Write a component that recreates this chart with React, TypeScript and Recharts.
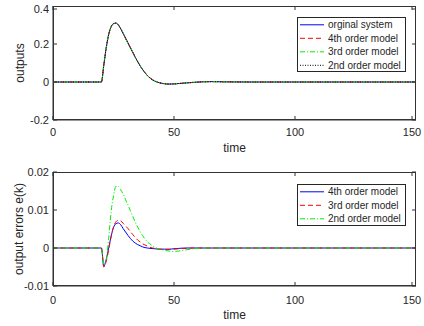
import { Line, LineChart, XAxis, YAxis } from "recharts";

// sample times (s)
const times = [
  0, 20, 21, 22, 23, 24, 25, 26, 27, 28, 29, 30, 31, 32, 33, 34, 35, 36, 37,
  38, 39, 40, 42, 44, 46, 48, 50, 52, 55, 58, 62, 66, 70, 80, 150,
];

// step response of the original system; the reduced models overlap it
const outOriginal = [
  0, 0, 0.09, 0.18, 0.25, 0.29, 0.307, 0.31, 0.3, 0.28, 0.255, 0.23, 0.205,
  0.18, 0.155, 0.13, 0.107, 0.085, 0.066, 0.049, 0.034, 0.022, 0.005, -0.004,
  -0.009, -0.011, -0.01, -0.008, -0.005, -0.002, 0.001, 0.002, 0.001, 0, 0,
];

// output errors e(k)
const err4th = [
  0, 0, -0.0048, -0.003, 0, 0.003, 0.0054, 0.0064, 0.0066, 0.0061, 0.0051,
  0.0042, 0.0033, 0.0025, 0.0018, 0.0013, 0.0009, 0.0006, 0.0003, 0.0001, 0,
  -0.0001, -0.0002, -0.0003, -0.0003, -0.0003, -0.0002, -0.0001, 0, 0, 0, 0,
  0, 0, 0,
];
const err3rd = [
  0, 0, -0.005, -0.0035, -0.0005, 0.003, 0.0055, 0.0069, 0.0073, 0.0071,
  0.0065, 0.0058, 0.0051, 0.0043, 0.0035, 0.0028, 0.0021, 0.0016, 0.0011,
  0.0008, 0.0005, 0.0002, -0.0001, -0.0003, -0.0004, -0.0004, -0.0003,
  -0.0002, -0.0001, 0, 0, 0, 0, 0, 0,
];
const err2nd = [
  0, 0, -0.0043, -0.003, 0.0025, 0.0095, 0.0137, 0.0162, 0.0162, 0.0153,
  0.0142, 0.0127, 0.0113, 0.0098, 0.0083, 0.0068, 0.0055, 0.0043, 0.0033,
  0.0024, 0.0016, 0.0011, 0.0002, -0.0003, -0.0006, -0.0008, -0.0009,
  -0.0008, -0.0005, -0.0002, 0, 0, 0, 0, 0,
];

const xTicks = [0, 50, 100, 150];
const yTicksTop = [-0.2, 0, 0.2, 0.4];
const yTicksBottom = [-0.01, 0, 0.01, 0.02];

const topNames = [
  "orginal system",
  "4th order model",
  "3rd order model",
  "2nd order model",
];
const bottomNames = ["4th order model", "3rd order model", "2nd order model"];

const topData = times.map((t, i) => ({
  t,
  orig: outOriginal[i],
  m4: outOriginal[i],
  m3: outOriginal[i],
  m2: outOriginal[i],
}));

const bottomData = times.map((t, i) => ({
  t,
  e4: err4th[i],
  e3: err3rd[i],
  e2: err2nd[i],
}));

const FONT = '"Liberation Sans", Arial, sans-serif';
const INK = "#262626";
const AXIS = "#333333";

// plot box: left edge, size in px (same for both panels), inward tick length
const PLOT_X = 53;
const PLOT_W = 363;
const PLOT_H = 114;
const TICK = 4;
const Y_MARGIN = 4;

const styles = [
  { color: "#0000ff", dash: undefined },
  { color: "#ff0000", dash: "5 3" },
  { color: "#00ee00", dash: "5 2 1 2" },
  { color: "#000000", dash: "1 1.5" },
];

// x tick: label below, inward tick marks at bottom and top
function XTick(props: any) {
  const { x, y, payload, margin } = props;
  const axisY = y - margin;
  const topY = axisY - PLOT_H;
  return (
    <g>
      <line x1={x} x2={x} y1={axisY} y2={axisY - TICK} stroke={AXIS} />
      <line x1={x} x2={x} y1={topY} y2={topY + TICK} stroke={AXIS} />
      <text
        x={x}
        y={y}
        dy="0.71em"
        textAnchor="middle"
        fontSize={11}
        fontFamily={FONT}
        fill={INK}
      >
        {payload.value}
      </text>
    </g>
  );
}

// y tick: label left, inward tick marks left and right
function YTick(props: any) {
  const { x, y, payload } = props;
  const axisX = x + Y_MARGIN;
  const rightX = axisX + PLOT_W;
  return (
    <g>
      <line x1={axisX} x2={axisX + TICK} y1={y} y2={y} stroke={AXIS} />
      <line x1={rightX} x2={rightX - TICK} y1={y} y2={y} stroke={AXIS} />
      <text
        x={x}
        y={y}
        dy="0.355em"
        textAnchor="end"
        fontSize={11}
        fontFamily={FONT}
        fill={INK}
      >
        {payload.value}
      </text>
    </g>
  );
}

// plain frame around the plot area (MATLAB "box on")
function Frame({ top }: { top: number }) {
  return (
    <svg
      style={{ position: "absolute", left: 0, top: 0, pointerEvents: "none" }}
      width={424}
      height={163}
    >
      <rect
        x={PLOT_X + 0.5}
        y={top + 0.5}
        width={PLOT_W - 1}
        height={PLOT_H - 1}
        fill="none"
        stroke={AXIS}
      />
    </svg>
  );
}

function LegendBox({
  left,
  top,
  width,
  height,
  names,
}: {
  left: number;
  top: number;
  width: number;
  height: number;
  names: string[];
}) {
  return (
    <svg
      style={{ position: "absolute", left, top }}
      width={width}
      height={height}
    >
      <rect
        x={0.5}
        y={0.5}
        width={width - 1}
        height={height - 1}
        fill="#ffffff"
        stroke={INK}
      />
      {names.map((n, i) => {
        const y = 7.8 + i * 13.5;
        return (
          <g key={n}>
            <line
              x1={3}
              x2={27}
              y1={y}
              y2={y}
              stroke={styles[i].color}
              strokeDasharray={styles[i].dash}
            />
            <text
              x={31}
              y={y}
              dominantBaseline="central"
              fontSize={10}
              fontFamily={FONT}
              fill={INK}
            >
              {n}
            </text>
          </g>
        );
      })}
    </svg>
  );
}

const timeLabel = (dy: number) => ({
  content: ({ viewBox }: any) => (
    <text
      x={viewBox.x + viewBox.width / 2}
      y={viewBox.y + dy}
      textAnchor="middle"
      fontSize={12}
      fontFamily={FONT}
      fill={INK}
    >
      time
    </text>
  ),
});

const yTitle = (value: string, dx: number) => ({
  content: ({ viewBox }: any) => {
    const x = viewBox.x + dx;
    const y = viewBox.y + viewBox.height / 2;
    return (
      <text
        x={x}
        y={y}
        transform={`rotate(-90 ${x} ${y})`}
        textAnchor="middle"
        fontSize={12}
        fontFamily={FONT}
        fill={INK}
      >
        {value}
      </text>
    );
  },
});

export default function App() {
  return (
    <div
      style={{
        position: "absolute",
        left: 0,
        top: 0,
        width: 424,
        height: 326,
        background: "#ffffff",
        fontFamily: FONT,
      }}
    >
      <div style={{ position: "absolute", left: 0, top: 0 }}>
        <LineChart
          width={424}
          height={163}
          data={topData}
          margin={{ top: 6, right: 8, left: 8, bottom: 7 }}
        >
          <XAxis
            dataKey="t"
            type="number"
            domain={[0, 150]}
            ticks={xTicks}
            tick={(p: any) => <XTick {...p} margin={8} />}
            tickLine={false}
            tickSize={0}
            tickMargin={8}
            stroke={AXIS}
            height={36}
            label={timeLabel(32)}
          />
          <YAxis
            type="number"
            domain={[-0.2, 0.4]}
            ticks={yTicksTop}
            tick={(p: any) => <YTick {...p} />}
            tickLine={false}
            tickSize={0}
            tickMargin={Y_MARGIN}
            stroke={AXIS}
            width={45}
            allowDataOverflow
            label={yTitle("outputs", 16)}
          />
          <Line
            type="monotone"
            dataKey="orig"
            stroke={styles[0].color}
            strokeWidth={1}
            dot={false}
            isAnimationActive={false}
          />
          <Line
            type="monotone"
            dataKey="m4"
            stroke={styles[1].color}
            strokeDasharray={styles[1].dash}
            strokeWidth={1}
            dot={false}
            isAnimationActive={false}
          />
          <Line
            type="monotone"
            dataKey="m3"
            stroke={styles[2].color}
            strokeDasharray={styles[2].dash}
            strokeWidth={1}
            dot={false}
            isAnimationActive={false}
          />
          <Line
            type="monotone"
            dataKey="m2"
            stroke={styles[3].color}
            strokeDasharray={styles[3].dash}
            strokeWidth={1}
            dot={false}
            isAnimationActive={false}
          />
        </LineChart>
        <Frame top={6} />
        <LegendBox left={297} top={17} width={109} height={55} names={topNames} />
      </div>
      <div style={{ position: "absolute", left: 0, top: 163 }}>
        <LineChart
          width={424}
          height={163}
          data={bottomData}
          margin={{ top: 9, right: 8, left: 8, bottom: 4 }}
        >
          <XAxis
            dataKey="t"
            type="number"
            domain={[0, 150]}
            ticks={xTicks}
            tick={(p: any) => <XTick {...p} margin={10} />}
            tickLine={false}
            tickSize={0}
            tickMargin={10}
            stroke={AXIS}
            height={36}
            label={timeLabel(33)}
          />
          <YAxis
            type="number"
            domain={[-0.01, 0.02]}
            ticks={yTicksBottom}
            tick={(p: any) => <YTick {...p} />}
            tickLine={false}
            tickSize={0}
            tickMargin={Y_MARGIN}
            stroke={AXIS}
            width={45}
            allowDataOverflow
            label={yTitle("output errors e(k)", 14.5)}
          />
          <Line
            type="monotone"
            dataKey="e4"
            stroke={styles[0].color}
            strokeWidth={1}
            dot={false}
            isAnimationActive={false}
          />
          <Line
            type="monotone"
            dataKey="e3"
            stroke={styles[1].color}
            strokeDasharray={styles[1].dash}
            strokeWidth={1}
            dot={false}
            isAnimationActive={false}
          />
          <Line
            type="monotone"
            dataKey="e2"
            stroke={styles[2].color}
            strokeDasharray={styles[2].dash}
            strokeWidth={1}
            dot={false}
            isAnimationActive={false}
          />
        </LineChart>
        <Frame top={9} />
        <LegendBox left={297} top={21} width={109} height={42} names={bottomNames} />
      </div>
    </div>
  );
}
